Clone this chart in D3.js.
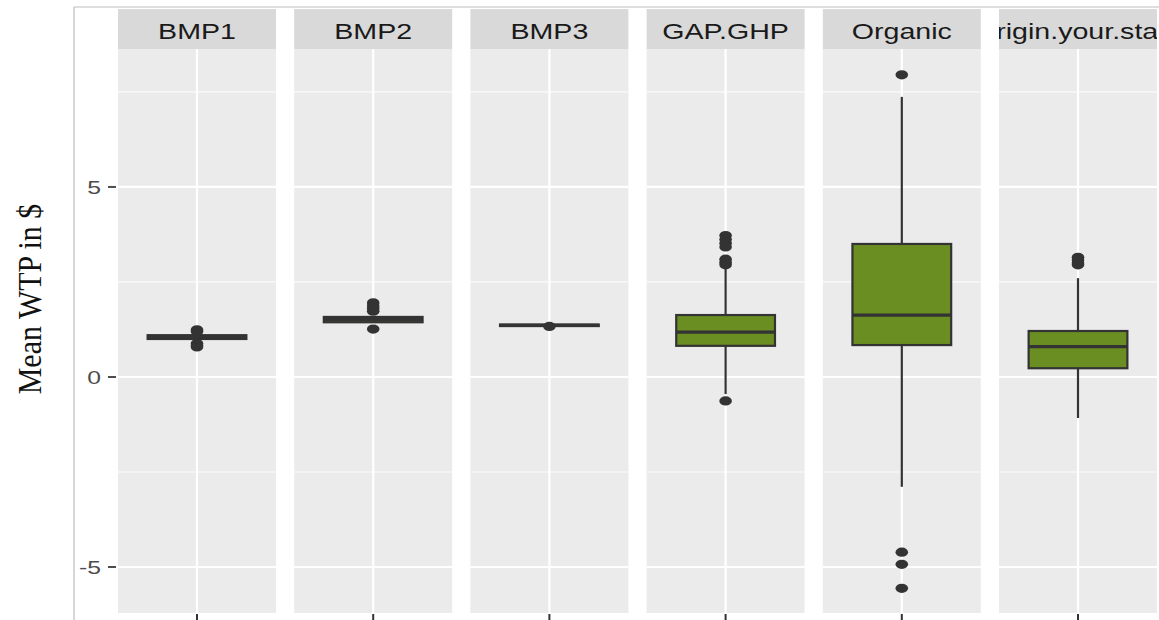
<!DOCTYPE html>
<html>
<head>
<meta charset="utf-8">
<script src="https://cdn.jsdelivr.net/npm/d3@7"></script>
<style>
  html, body { margin: 0; padding: 0; background: #ffffff; }
  svg { display: block; }
</style>
</head>
<body>
<svg id="chart" width="1159" height="620"></svg>
<script>
// ---- data ----
const categories = ["BMP1", "BMP2", "BMP3", "GAP.GHP", "Organic", "Origin.your.state"];
const q1Values      = [1.00, 1.44, 1.34, 0.82, 0.84, 0.23];
const medianValues  = [1.05, 1.51, 1.36, 1.18, 1.63, 0.80];
const q3Values      = [1.10, 1.58, 1.38, 1.63, 3.50, 1.21];
const lowerWhiskers = [0.98, 1.42, 1.33, -0.45, -2.89, -1.08];
const upperWhiskers = [1.12, 1.60, 1.39, 2.90, 7.37, 2.60];
const outlierValues = [
  [1.24, 1.20, 0.88, 0.83, 0.79],
  [1.95, 1.87, 1.80, 1.73, 1.26],
  [1.33],
  [3.72, 3.62, 3.52, 3.42, 3.10, 3.02, 2.95, -0.63],
  [7.95, -4.61, -4.93, -5.56],
  [3.15, 3.08, 3.00, 2.95]
];
const yTicks = [-5, 0, 5];
const yMinorTicks = [-2.5, 2.5, 7.5];
const yTitle = "Mean WTP in $";

// ---- layout ----
const svg = d3.select("#chart");
const panelTop = 49, panelBottom = 613;
const stripTop = 9;
const fill = "#6B8E23";
const ink = "#333333";

const y = d3.scaleLinear().domain([-6.21, 8.63]).range([panelBottom, panelTop]);
const band = d3.scaleBand().domain(categories).range([118, 1157]).paddingInner(0.1033).paddingOuter(0);

// frame lines (crop border)
svg.append("line").attr("x1", 74).attr("x2", 74).attr("y1", 7).attr("y2", 620)
  .attr("stroke", "#bdbdbd").attr("stroke-width", 1.2);
svg.append("line").attr("x1", 74).attr("x2", 1159).attr("y1", 7).attr("y2", 7)
  .attr("stroke", "#bdbdbd").attr("stroke-width", 1.2);

const defs = svg.append("defs");

categories.forEach((cat, i) => {
  const x0 = band(cat), w = band.bandwidth();
  const x = d3.scaleLinear().domain([0.4, 1.6]).range([x0, x0 + w]);
  const g = svg.append("g");

  // panel background
  g.append("rect").attr("x", x0).attr("y", panelTop).attr("width", w)
    .attr("height", panelBottom - panelTop).attr("fill", "#EBEBEB");
  // minor grid
  yMinorTicks.forEach(t => {
    g.append("line").attr("x1", x0).attr("x2", x0 + w).attr("y1", y(t)).attr("y2", y(t))
      .attr("stroke", "#ffffff").attr("stroke-width", 1.2).attr("opacity", 0.8);
  });
  // major grid
  yTicks.forEach(t => {
    g.append("line").attr("x1", x0).attr("x2", x0 + w).attr("y1", y(t)).attr("y2", y(t))
      .attr("stroke", "#ffffff").attr("stroke-width", 2.2);
  });
  g.append("line").attr("x1", x(1)).attr("x2", x(1)).attr("y1", panelTop).attr("y2", panelBottom)
    .attr("stroke", "#ffffff").attr("stroke-width", 2.2);

  // strip
  g.append("rect").attr("x", x0).attr("y", stripTop).attr("width", w)
    .attr("height", panelTop - stripTop).attr("fill", "#D9D9D9");
  const clipId = "clip" + i;
  defs.append("clipPath").attr("id", clipId).append("rect")
    .attr("x", x0).attr("y", stripTop).attr("width", w).attr("height", panelTop - stripTop);
  g.append("g").attr("clip-path", `url(#${clipId})`)
    .append("text")
    .attr("transform", `translate(${x(1)},39) scale(1.3,1)`)
    .attr("text-anchor", "middle")
    .attr("font-family", "Liberation Sans, Arial, sans-serif")
    .attr("font-size", 22)
    .attr("fill", "#1a1a1a")
    .text(cat);

  // whiskers
  g.append("line").attr("x1", x(1)).attr("x2", x(1))
    .attr("y1", y(q3Values[i])).attr("y2", y(upperWhiskers[i]))
    .attr("stroke", ink).attr("stroke-width", 2.2);
  g.append("line").attr("x1", x(1)).attr("x2", x(1))
    .attr("y1", y(q1Values[i])).attr("y2", y(lowerWhiskers[i]))
    .attr("stroke", ink).attr("stroke-width", 2.2);
  // box
  g.append("rect").attr("x", x(0.625)).attr("width", x(1.375) - x(0.625))
    .attr("y", y(q3Values[i])).attr("height", Math.max(0.01, y(q1Values[i]) - y(q3Values[i])))
    .attr("fill", fill).attr("stroke", ink).attr("stroke-width", 2.2);
  // median
  g.append("line").attr("x1", x(0.625)).attr("x2", x(1.375))
    .attr("y1", y(medianValues[i])).attr("y2", y(medianValues[i]))
    .attr("stroke", ink).attr("stroke-width", 3.2);
  // outliers
  g.selectAll("ellipse.out").data(outlierValues[i]).enter().append("ellipse")
    .attr("cx", x(1)).attr("cy", d => y(d)).attr("rx", 6.3).attr("ry", 4.6)
    .attr("fill", ink);

  // bottom tick
  svg.append("line").attr("x1", x(1)).attr("x2", x(1)).attr("y1", panelBottom + 1).attr("y2", 620)
    .attr("stroke", "#333333").attr("stroke-width", 2);
});

// y axis ticks + labels
yTicks.forEach(t => {
  svg.append("line").attr("x1", 108).attr("x2", 116).attr("y1", y(t)).attr("y2", y(t))
    .attr("stroke", "#4d4d4d").attr("stroke-width", 2);
  svg.append("text")
    .attr("transform", `translate(101,${y(t) + 7}) scale(1.3,1)`)
    .attr("text-anchor", "end")
    .attr("font-family", "Liberation Sans, Arial, sans-serif")
    .attr("font-size", 19)
    .attr("fill", "#4d4d4d")
    .text(String(t));
});

// y axis title
svg.append("text")
  .attr("transform", `translate(41,299) rotate(-90) scale(1,1.1)`)
  .attr("text-anchor", "middle")
  .attr("font-family", "Liberation Serif, Times New Roman, serif")
  .attr("font-size", 30)
  .attr("fill", "#111111")
  .text(yTitle);
</script>
</body>
</html>
